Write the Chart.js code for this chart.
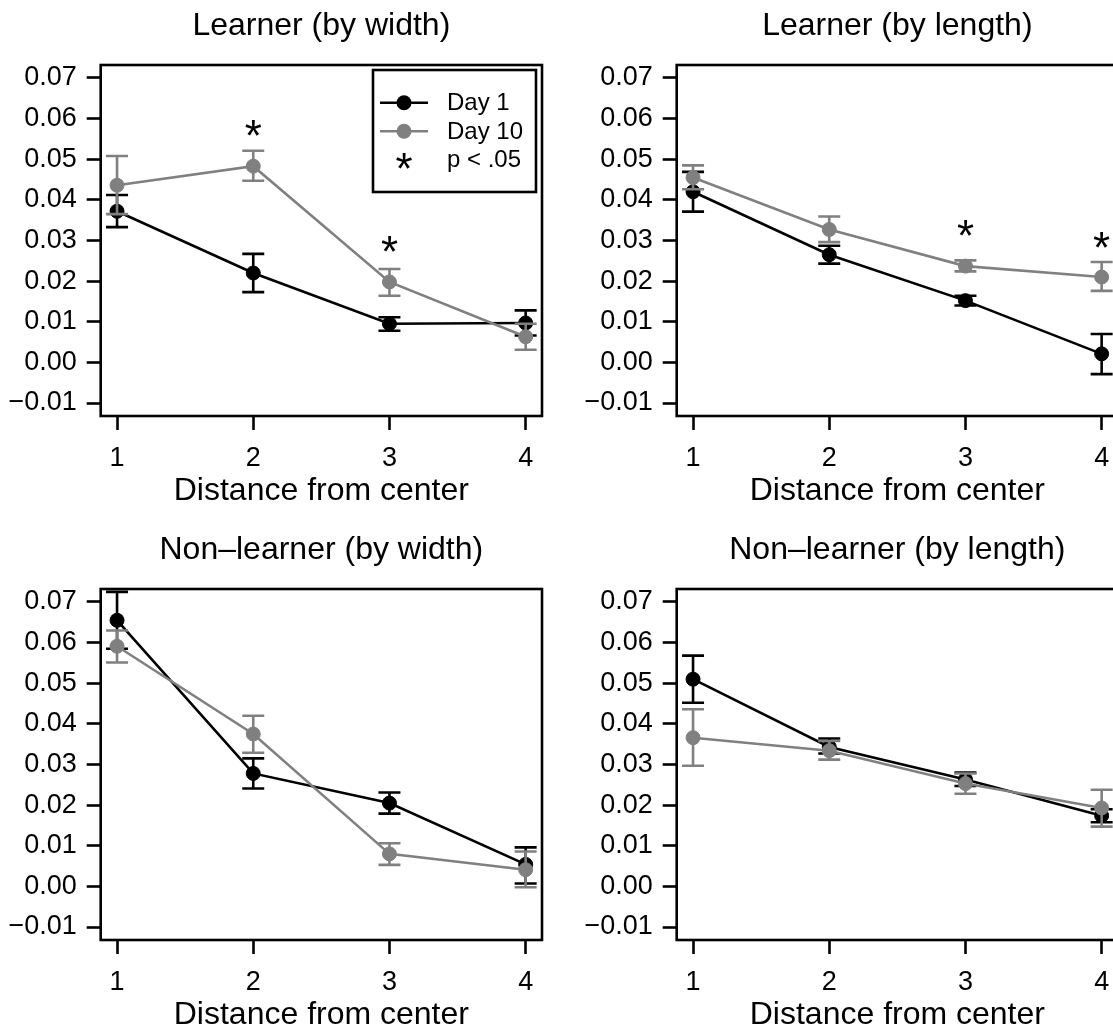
<!DOCTYPE html>
<html>
<head>
<meta charset="utf-8">
<title>Distance from center</title>
<script src="https://cdn.jsdelivr.net/npm/chart.js@4.4.1/dist/chart.umd.min.js"></script>
<style>
  body { margin: 0; background: #fff; }
  #wrap { position: relative; width: 1113px; height: 1028px; overflow: hidden; background: #fff; }
  #wrap canvas { position: absolute; }
</style>
</head>
<body>
<div id="wrap">
  <canvas id="learnerWidth" width="576" height="524" style="left:0;top:0"></canvas>
  <canvas id="learnerLength" width="576" height="524" style="left:576px;top:0"></canvas>
  <canvas id="nonLearnerWidth" width="576" height="524" style="left:0;top:524px"></canvas>
  <canvas id="nonLearnerLength" width="576" height="524" style="left:576px;top:524px"></canvas>
</div>
<script>
// ---- data ----
const distances = [1, 2, 3, 4];
const yTicks = [-0.01, 0, 0.01, 0.02, 0.03, 0.04, 0.05, 0.06, 0.07];

// Learner (by width)
const lwDay1 = [0.0372, 0.0220, 0.0095, 0.0097];
const lwDay1Lo = [0.0333, 0.0173, 0.0078, 0.0066];
const lwDay1Hi = [0.0412, 0.0267, 0.0111, 0.0128];
const lwDay10 = [0.0436, 0.0483, 0.0198, 0.0063];
const lwDay10Lo = [0.0365, 0.0447, 0.0164, 0.0031];
const lwDay10Hi = [0.0508, 0.0521, 0.0230, 0.0095];
const lwStarX = [2, 3];
const lwStarY = [0.0580, 0.0296];

// Learner (by length)
const llDay1 = [0.0420, 0.0265, 0.0152, 0.0021];
const llDay1Lo = [0.0371, 0.0243, 0.0140, -0.0029];
const llDay1Hi = [0.0469, 0.0287, 0.0164, 0.0070];
const llDay10 = [0.0455, 0.0327, 0.0237, 0.0210];
const llDay10Lo = [0.0426, 0.0296, 0.0224, 0.0176];
const llDay10Hi = [0.0485, 0.0359, 0.0251, 0.0247];
const llStarX = [3, 4];
const llStarY = [0.0336, 0.0305];

// Non-learner (by width)
const nwDay1 = [0.0655, 0.0278, 0.0205, 0.0054];
const nwDay1Lo = [0.0585, 0.0241, 0.0179, 0.0007];
const nwDay1Hi = [0.0725, 0.0315, 0.0231, 0.0096];
const nwDay10 = [0.0591, 0.0375, 0.0080, 0.0041];
const nwDay10Lo = [0.0551, 0.0329, 0.0053, -0.0002];
const nwDay10Hi = [0.0630, 0.0420, 0.0106, 0.0086];

// Non-learner (by length)
const nlDay1 = [0.0510, 0.0343, 0.0263, 0.0174];
const nlDay1Lo = [0.0452, 0.0327, 0.0247, 0.0158];
const nlDay1Hi = [0.0568, 0.0364, 0.0280, 0.0190];
const nlDay10 = [0.0366, 0.0334, 0.0253, 0.0193];
const nlDay10Lo = [0.0297, 0.0312, 0.0228, 0.0147];
const nlDay10Hi = [0.0436, 0.0358, 0.0278, 0.0238];

// ---- style ----
const FONT = "'Liberation Sans', Arial, Helvetica, sans-serif";
const BLACK = "#000000";
const GRAY = "#808080";
const LW = 2.6;
const STAR_SIZE = 44;

// R-style axis range: data limits padded by 4% on each side
function padRange(lo, hi) {
  const d = (hi - lo) * 0.04;
  return [lo - d, hi + d];
}
const xRange = padRange(distances[0], distances[distances.length - 1]);
const yRange = padRange(yTicks[0], yTicks[yTicks.length - 1]);

function fmtTick(v) {
  return v.toFixed(2).replace("-", "\u2212");
}

// box around the plot region
const frame = {
  id: "frame",
  beforeDatasetsDraw(chart) {
    const { ctx, chartArea: a } = chart;
    ctx.save();
    ctx.strokeStyle = BLACK;
    ctx.lineWidth = LW;
    ctx.strokeRect(a.left, a.top, a.right - a.left, a.bottom - a.top);
    ctx.restore();
  },
};

// vertical error bars with flat caps, drawn under each series
const errorBars = {
  id: "errorBars",
  beforeDatasetDraw(chart, args) {
    const ds = chart.data.datasets[args.index];
    const xs = chart.scales.x;
    const ys = chart.scales.y;
    const ctx = chart.ctx;
    ctx.save();
    ctx.strokeStyle = ds.borderColor;
    ctx.lineWidth = LW;
    ds.lo.forEach((lo, i) => {
      const px = xs.getPixelForValue(distances[i]);
      const top = ys.getPixelForValue(ds.hi[i]);
      const bot = ys.getPixelForValue(lo);
      ctx.beginPath();
      ctx.moveTo(px, top);
      ctx.lineTo(px, bot);
      ctx.moveTo(px - 11, top);
      ctx.lineTo(px + 11, top);
      ctx.moveTo(px - 11, bot);
      ctx.lineTo(px + 11, bot);
      ctx.stroke();
    });
    ctx.restore();
  },
};

function drawStar(ctx, x, y) {
  ctx.font = STAR_SIZE + "px " + FONT;
  ctx.textAlign = "center";
  ctx.textBaseline = "alphabetic";
  ctx.fillStyle = BLACK;
  // '*' sits high in the em box, shift so its middle lands on y
  ctx.fillText("*", x, y + 0.56 * STAR_SIZE);
}

function starsPlugin(sx, sy) {
  return {
    id: "stars",
    afterDatasetsDraw(chart) {
      const ctx = chart.ctx;
      ctx.save();
      sx.forEach((v, i) => {
        drawStar(ctx, chart.scales.x.getPixelForValue(v), chart.scales.y.getPixelForValue(sy[i]));
      });
      ctx.restore();
    },
  };
}

// legend box in the top right corner of the first panel
const legendBox = {
  id: "legendBox",
  afterDatasetsDraw(chart) {
    const { ctx, chartArea: a } = chart;
    const right = a.right - 6;
    const top = a.top + 5;
    const w = 163, h = 122;
    const left = right - w;
    ctx.save();
    ctx.strokeStyle = BLACK;
    ctx.lineWidth = LW;
    ctx.strokeRect(left, top, w, h);

    const rows = [
      { label: "Day 1", color: BLACK },
      { label: "Day 10", color: GRAY },
      { label: "p < .05", star: true },
    ];
    rows.forEach((r, i) => {
      const cy = top + 32.7 + i * 28.5;
      const cx = left + 31;
      if (r.star) {
        drawStar(ctx, cx, cy);
      } else {
        ctx.strokeStyle = r.color;
        ctx.lineWidth = LW;
        ctx.beginPath();
        ctx.moveTo(cx - 24, cy);
        ctx.lineTo(cx + 24, cy);
        ctx.stroke();
        ctx.fillStyle = r.color;
        ctx.beginPath();
        ctx.arc(cx, cy, 7.5, 0, Math.PI * 2);
        ctx.fill();
      }
      ctx.fillStyle = BLACK;
      ctx.font = "24px " + FONT;
      ctx.textAlign = "left";
      ctx.textBaseline = "middle";
      ctx.fillText(r.label, left + 74, cy + 1);
    });
    ctx.restore();
  },
};

function series(label, color, mean, lo, hi, order) {
  return {
    label: label,
    data: mean.map((v, i) => ({ x: distances[i], y: v })),
    lo: lo,
    hi: hi,
    borderColor: color,
    backgroundColor: color,
    borderWidth: LW,
    pointRadius: 7,
    pointBorderWidth: 1,
    pointBackgroundColor: color,
    pointBorderColor: color,
    pointHoverRadius: 7,
    tension: 0,
    order: order,
  };
}

function makePanel(id, title, d1, d1Lo, d1Hi, d10, d10Lo, d10Hi, starX, starY, withLegend) {
  const plugins = [frame, errorBars, starsPlugin(starX, starY)];
  if (withLegend) plugins.push(legendBox);

  new Chart(document.getElementById(id), {
    type: "line",
    data: {
      datasets: [
        series("Day 1", BLACK, d1, d1Lo, d1Hi, 1),
        series("Day 10", GRAY, d10, d10Lo, d10Hi, 0),
      ],
    },
    plugins: plugins,
    options: {
      responsive: false,
      animation: false,
      events: [],
      layout: { padding: { left: 0, right: 34, top: 0, bottom: 0 } },
      plugins: {
        legend: { display: false },
        tooltip: { enabled: false },
        title: {
          display: true,
          fullSize: false,
          text: title,
          color: BLACK,
          font: { family: FONT, size: 32, weight: "normal", lineHeight: 1.2 },
          padding: { top: 7.3, bottom: 19.3 },
        },
      },
      scales: {
        x: {
          type: "linear",
          min: xRange[0],
          max: xRange[1],
          afterBuildTicks: (s) => {
            s.ticks = distances.map((v) => ({ value: v }));
          },
          afterFit: (s) => {
            s.height = 108;
          },
          border: { display: false },
          grid: {
            drawOnChartArea: false,
            drawTicks: true,
            tickLength: 14,
            tickColor: BLACK,
            tickWidth: LW,
          },
          ticks: {
            autoSkip: false,
            maxRotation: 0,
            padding: 12,
            color: BLACK,
            font: { family: FONT, size: 27 },
            callback: (v) => String(v),
          },
          title: {
            display: true,
            text: "Distance from center",
            color: BLACK,
            font: { family: FONT, size: 32, lineHeight: 1.2 },
            padding: { top: 0, bottom: 14 },
          },
        },
        y: {
          min: yRange[0],
          max: yRange[1],
          afterBuildTicks: (s) => {
            s.ticks = yTicks.map((v) => ({ value: v }));
          },
          afterFit: (s) => {
            s.width = 100.7;
          },
          border: { display: false },
          grid: {
            drawOnChartArea: false,
            drawTicks: true,
            tickLength: 14,
            tickColor: BLACK,
            tickWidth: LW,
          },
          ticks: {
            autoSkip: false,
            padding: 10,
            color: BLACK,
            font: { family: FONT, size: 27 },
            callback: (v) => fmtTick(v),
          },
        },
      },
    },
  });
}

makePanel("learnerWidth", "Learner (by width)",
  lwDay1, lwDay1Lo, lwDay1Hi, lwDay10, lwDay10Lo, lwDay10Hi, lwStarX, lwStarY, true);
makePanel("learnerLength", "Learner (by length)",
  llDay1, llDay1Lo, llDay1Hi, llDay10, llDay10Lo, llDay10Hi, llStarX, llStarY, false);
makePanel("nonLearnerWidth", "Non\u2013learner (by width)",
  nwDay1, nwDay1Lo, nwDay1Hi, nwDay10, nwDay10Lo, nwDay10Hi, [], [], false);
makePanel("nonLearnerLength", "Non\u2013learner (by length)",
  nlDay1, nlDay1Lo, nlDay1Hi, nlDay10, nlDay10Lo, nlDay10Hi, [], [], false);
</script>
</body>
</html>
